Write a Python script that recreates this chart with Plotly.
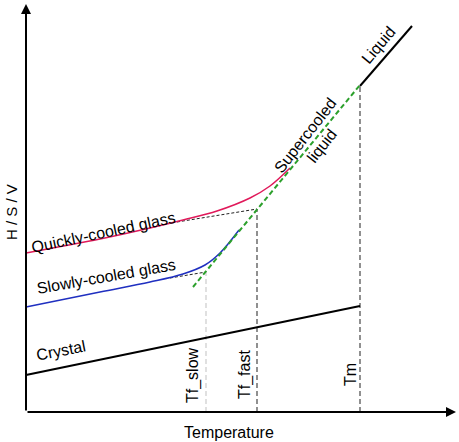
import plotly.graph_objects as go

# Schematic data (arbitrary units: temperature T, property H/S/V)
crystal_T = [26, 360]
crystal_H = [67, 136]

liquid_T = [360, 412]
liquid_H = [356, 416]

supercooled_T = [193, 360]
supercooled_H = [155, 357]

quick_T = [26, 100, 150, 183, 217, 250, 270, 290]
quick_H = [189, 203, 214, 222, 231, 244, 256, 274]

slow_T = [26, 100, 150, 183, 205, 220, 239]
slow_H = [135, 150, 160, 168, 177, 189, 212]

quick_ext_T = [177, 257]
quick_ext_H = [220, 233]

slow_ext_T = [170, 206]
slow_ext_H = [164, 170]

Tf_slow, Tf_fast, Tm = 206, 257, 360
H_base = 30
Tf_slow_top, Tf_fast_top, Tm_top = 170, 233, 356

T_origin, T_end = 26, 456
H_end = 438

tick_labels = ["Tf_slow", "Tf_fast", "Tm"]
tick_pos = [193, 245, 350]

FONT = "Liberation Sans, Arial, sans-serif"

fig = go.Figure()

def line(x, y, color, width, dash="solid", shape="linear"):
    fig.add_trace(go.Scatter(x=x, y=y, mode="lines", hoverinfo="skip",
                             line=dict(color=color, width=width, dash=dash, shape=shape),
                             showlegend=False))

# vertical reference lines
line([Tf_slow, Tf_slow], [H_base, Tf_slow_top], "#d0d0d0", 1.3, "5px,3px")
line([Tf_fast, Tf_fast], [H_base, Tf_fast_top], "#555555", 1.3, "5px,3px")
line([Tm, Tm], [H_base, Tm_top], "#555555", 1.3, "5px,3px")

# extrapolations
line(quick_ext_T, quick_ext_H, "#222222", 1, "3px,2px")
line(slow_ext_T, slow_ext_H, "#222222", 1, "3px,2px")

# curves
line(crystal_T, crystal_H, "black", 2)
line(liquid_T, liquid_H, "black", 2)
line(quick_T, quick_H, "#e0195a", 1.5, shape="spline")
line(slow_T, slow_H, "#1f2fc0", 1.5, shape="spline")
line(supercooled_T, supercooled_H, "#2ca02c", 2, "5px,3px")

anns = []
# axes arrows
anns.append(dict(x=T_end, y=H_base, ax=T_origin, ay=H_base, xref="x", yref="y",
                 axref="x", ayref="y", showarrow=True, arrowhead=2, arrowsize=1,
                 arrowwidth=2, arrowcolor="black", text=""))
anns.append(dict(x=T_origin, y=H_end, ax=T_origin, ay=H_base, xref="x", yref="y",
                 axref="x", ayref="y", showarrow=True, arrowhead=2, arrowsize=1,
                 arrowwidth=2, arrowcolor="black", text=""))

def txt(x, y, s, angle=0, size=16):
    anns.append(dict(x=x, y=y, xref="x", yref="y", text=s, showarrow=False,
                     textangle=angle, font=dict(family=FONT, size=size, color="black"),
                     xanchor="center", yanchor="middle"))

txt(229, 10, "Temperature")
txt(11, 230, "H / S / V", -90, 15)
txt(103, 210, "Quickly-cooled glass", -12)
txt(106, 166, "Slowly-cooled glass", -10)
txt(61, 92, "Crystal", -11)
txt(305, 307, "Supercooled", -52)
txt(321, 296, "liquid", -52)
txt(378, 397, "Liquid", -50)
for lab, p in zip(tick_labels, tick_pos):
    txt(p, 67, lab, -90)

fig.update_layout(
    width=459, height=442, margin=dict(l=0, r=0, t=0, b=0),
    plot_bgcolor="white", paper_bgcolor="white",
    xaxis=dict(range=[0, 459], visible=False, fixedrange=True),
    yaxis=dict(range=[0, 442], visible=False, fixedrange=True),
    annotations=anns,
)

fig.write_html("out.html")
